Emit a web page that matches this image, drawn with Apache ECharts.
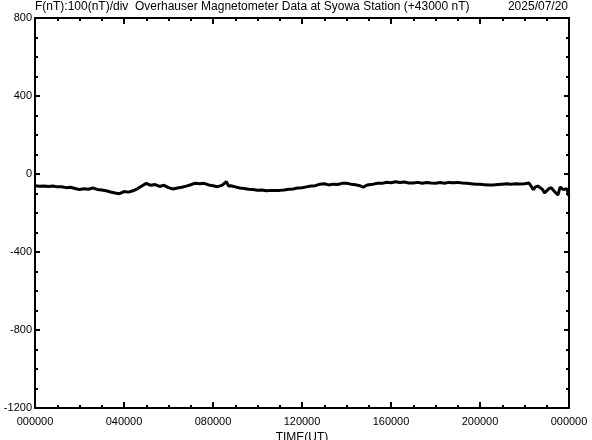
<!DOCTYPE html>
<html>
<head>
<meta charset="utf-8">
<script src="https://cdn.jsdelivr.net/npm/echarts@6/dist/echarts.min.js"></script>
<style>
html,body{margin:0;padding:0;background:#fff;}
#c{width:592px;height:440px;}
</style>
</head>
<body>
<div id="c"></div>
<script>
const titleText = 'F(nT):100(nT)/div  Overhauser Magnetometer Data at Syowa Station (+43000 nT)';
const dateText = '2025/07/20';
const xTickLabels = ['000000','040000','080000','120000','160000','200000','000000'];
const yTickLabels = ['-1200','-800','-400','0','400','800'];
const hours = [0.0,0.2,0.4,0.6,0.8,1.0,1.2,1.4,1.6,1.8,2.0,2.2,2.4,2.6,2.8,3.0,3.2,3.4,3.6,3.8,
  4.0,4.2,4.4,4.6,4.8,5.0,5.2,5.4,5.6,5.8,6.0,6.2,6.4,6.6,6.8,7.0,7.2,7.4,7.6,7.8,
  8.0,8.2,8.4,8.6,8.7,8.8,9.0,9.2,9.4,9.6,9.8,10.0,10.2,10.4,10.6,10.8,11.0,11.2,11.4,11.6,11.8,
  12.0,12.2,12.4,12.6,12.8,13.0,13.2,13.4,13.6,13.8,14.0,14.2,14.4,14.6,14.75,14.9,15.0,15.2,15.4,15.6,15.8,
  16.0,16.2,16.4,16.6,16.8,17.0,17.2,17.4,17.6,17.8,18.0,18.2,18.4,18.6,18.8,19.0,19.2,19.4,19.6,19.8,
  20.0,20.2,20.4,20.6,20.8,21.0,21.2,21.4,21.6,21.8,22.0,22.2,22.4,22.5,22.6,22.8,22.9,23.1,23.2,23.35,23.5,23.6,23.75,23.9,24.0];
const fValues = [-60,-63,-61,-64,-62,-66,-65,-70,-68,-74,-80,-76,-78,-72,-79,-82,-86,-92,-97,-101,
  -90,-93,-86,-76,-62,-48,-58,-54,-64,-58,-70,-77,-72,-68,-62,-55,-47,-50,-48,-56,
  -60,-65,-58,-40,-62,-60,-66,-72,-74,-78,-80,-83,-82,-86,-84,-85,-84,-82,-78,-77,-72,
  -70,-66,-62,-60,-52,-50,-56,-52,-54,-48,-47,-52,-55,-60,-68,-58,-55,-52,-47,-48,-42,
  -45,-40,-44,-41,-46,-46,-43,-47,-44,-46,-47,-44,-47,-43,-45,-43,-46,-48,-50,-52,
  -53,-55,-57,-56,-54,-52,-50,-52,-50,-51,-50,-46,-80,-66,-62,-78,-97,-75,-70,-90,-108,-67,-80,-75,-113];

const chart = echarts.init(document.getElementById('c'), null, {renderer:'canvas'});
const FONT = 'Liberation Sans, Arial, sans-serif';
const tickStyle = {color:'#000', width:2};
function xAx(pos, showLabel){
  return {
    type:'value', position:pos, min:0, max:24, interval:4,
    axisLine:{show:true, onZero:false, lineStyle:{color:'#000', width:2}},
    axisTick:{show:true, inside:true, length:6, lineStyle:tickStyle},
    minorTick:{show:true, splitNumber:4, length:3, lineStyle:tickStyle},
    splitLine:{show:false},
    axisLabel:{show:showLabel, formatter:(v)=>xTickLabels[Math.round(v/4)], fontSize:11, color:'#000', fontFamily:FONT, margin:8},
    name: showLabel ? 'TIME(UT)' : '', nameLocation:'middle', nameGap:18,
    nameTextStyle:{fontSize:12, color:'#000', fontFamily:FONT}
  };
}
function yAx(pos, showLabel){
  return {
    type:'value', position:pos, min:-1200, max:800, interval:400,
    axisLine:{show:true, onZero:false, lineStyle:{color:'#000', width:2}},
    axisTick:{show:true, inside:true, length:5, lineStyle:tickStyle},
    minorTick:{show:true, splitNumber:4, length:3, lineStyle:tickStyle},
    splitLine:{show:false},
    axisLabel:{show:showLabel, formatter:(v)=>yTickLabels[Math.round((v+1200)/400)], fontSize:11, color:'#000', fontFamily:FONT, margin:3}
  };
}
chart.setOption({
  animation:false,
  backgroundColor:'#fff',
  grid:{left:35, right:23, top:18, bottom:32, containLabel:false, outerBoundsMode:'none'},
  xAxis:[xAx('bottom', true), xAx('top', false)],
  yAxis:[yAx('left', true), yAx('right', false)],
  graphic:[
    {type:'text', left:35, top:1, style:{text:titleText, fontSize:12, fontFamily:FONT, fill:'#000'}},
    {type:'text', right:24, top:1, style:{text:dateText, fontSize:12, fontFamily:FONT, fill:'#000'}}
  ],
  series:[{
    type:'line', xAxisIndex:0, yAxisIndex:0, showSymbol:false,
    lineStyle:{color:'#000', width:3},
    data: hours.map((h,i)=>[h, fValues[i]])
  }]
});
</script>
</body>
</html>
